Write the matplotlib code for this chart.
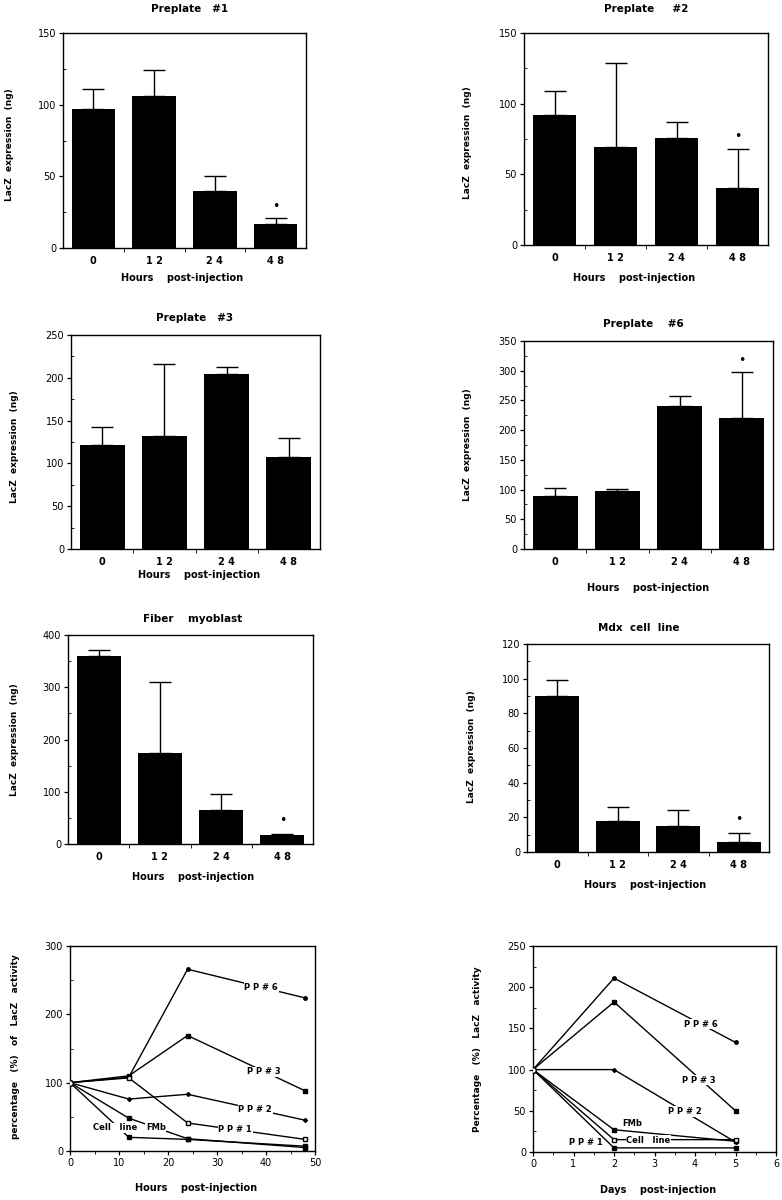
import matplotlib
matplotlib.use("Agg")
import matplotlib.pyplot as plt
from matplotlib.ticker import MultipleLocator

plt.rcParams['font.family'] = ['DejaVu Sans']

W, H = 782, 1200

# bar chart data (LacZ expression, ng) : mean and upper error bar
hours = ['0', '1 2', '2 4', '4 8']

pp1_mean = [97, 106, 40, 17]
pp1_err = [14, 18, 10, 4]
pp2_mean = [92, 69, 76, 40]
pp2_err = [17, 60, 11, 28]
pp3_mean = [121, 132, 205, 107]
pp3_err = [22, 84, 8, 23]
pp6_mean = [90, 97, 240, 220]
pp6_err = [13, 4, 18, 77]
fmb_mean = [360, 175, 65, 17]
fmb_err = [11, 135, 30, 2]
mdx_mean = [90, 18, 15, 6]
mdx_err = [9, 8, 9, 5]

# percentage curves, hours post-injection
h_x = [0, 12, 24, 48]
h_pp6 = [100, 108, 266, 224]
h_pp3 = [100, 110, 169, 88]
h_pp2 = [100, 76, 83, 45]
h_pp1 = [100, 107, 41, 17]
h_fmb = [100, 48, 18, 5]
h_cell = [100, 20, 17, 7]

# percentage curves, days post-injection
d_x = [0, 2, 5]
d_pp6 = [100, 211, 133]
d_pp3 = [100, 182, 50]
d_pp2 = [100, 100, 12]
d_fmb = [100, 27, 13]
d_cell = [100, 15, 15]
d_pp1 = [100, 5, 5]

fig = plt.figure(figsize=(W / 100, H / 100), dpi=100)


def px_axes(l, r, t, b):
    return fig.add_axes([l / W, 1 - b / H, (r - l) / W, (b - t) / H])


def ftext(x, y, s, **kw):
    kw.setdefault('ha', 'center')
    kw.setdefault('va', 'center')
    kw.setdefault('fontweight', 'bold')
    kw.setdefault('fontsize', 7)
    fig.text(x / W, 1 - y / H, s, **kw)


def style(ax):
    for sp in ax.spines.values():
        sp.set_linewidth(1.0)
    ax.tick_params(which='major', direction='out', length=3, width=0.9,
                   labelsize=7, pad=2)
    ax.tick_params(which='minor', direction='in', length=2, width=0.6)


def bar_panel(box, mean, err, ymax, ystep, title, tpos, ylpos, xlpos, star=None):
    ax = px_axes(*box)
    x = [0.5, 1.5, 2.5, 3.5]
    ax.bar(x, mean, width=0.72, color='black')
    ax.errorbar(x, mean, yerr=[[0] * 4, err], fmt='none', ecolor='black',
                elinewidth=1.0, capsize=8, capthick=1.0)
    ax.set_xlim(0, 4)
    ax.set_ylim(0, ymax)
    ax.set_yticks(range(0, ymax + 1, ystep))
    ax.yaxis.set_minor_locator(MultipleLocator(ystep / 2))
    ax.set_xticks(x)
    ax.set_xticklabels(hours, fontweight='bold')
    ax.set_xticks([1, 2, 3], minor=True)
    style(ax)
    ax.tick_params(axis='x', which='major', length=0, pad=6)
    ax.tick_params(axis='x', which='minor', direction='out', length=3)
    if star is not None:
        ax.text(3.5, star, '•', ha='center', va='center', fontsize=9)
    ftext(*tpos, title, fontsize=7.5)
    ftext(*ylpos, 'LacZ  expression  (ng)', rotation=90, fontsize=6.5)
    ftext(*xlpos, 'Hours    post-injection', fontsize=7)
    return ax


bar_panel((63, 306, 33, 248), pp1_mean, pp1_err, 150, 50, 'Preplate   #1',
          (190, 9), (10, 145), (182, 278), star=29)
bar_panel((524, 768, 33, 245), pp2_mean, pp2_err, 150, 50, 'Preplate     #2',
          (646, 9), (468, 143), (634, 278), star=77)
bar_panel((71, 320, 335, 549), pp3_mean, pp3_err, 250, 50, 'Preplate   #3',
          (195, 318), (15, 447), (199, 575))
bar_panel((524, 773, 341, 549), pp6_mean, pp6_err, 350, 50, 'Preplate    #6',
          (643, 324), (468, 445), (648, 588), star=317)
bar_panel((68, 313, 635, 844), fmb_mean, fmb_err, 400, 100, 'Fiber    myoblast',
          (193, 619), (15, 740), (193, 877), star=45)
bar_panel((527, 769, 644, 852), mdx_mean, mdx_err, 120, 20, 'Mdx  cell  line',
          (639, 628), (472, 747), (645, 885), star=19)


def label(ax, x, y, s):
    ax.text(x, y, s, ha='center', va='center', fontsize=6, fontweight='bold',
            bbox=dict(facecolor='white', edgecolor='none', pad=0.5), zorder=5)


# hours line chart
ax7 = px_axes(70, 315, 946, 1151)
lw = 1.0
ax7.plot(h_x, h_pp6, '-o', color='black', lw=lw, ms=2.5)
ax7.plot(h_x, h_pp3, '-s', color='black', lw=lw, ms=3.5)
ax7.plot(h_x, h_pp2, '-D', color='black', lw=lw, ms=2)
ax7.plot(h_x, h_pp1, '-s', color='black', mfc='white', lw=lw, ms=3.5)
ax7.plot(h_x, h_fmb, '-s', color='black', lw=lw, ms=3.5)
ax7.plot(h_x, h_cell, '-s', color='black', lw=lw, ms=3.5)
ax7.plot(h_x[:1], h_pp1[:1], 'o', color='black', mfc='white', ms=4, zorder=6)
label(ax7, 39, 240, 'P P # 6')
label(ax7, 39.5, 116, 'P P # 3')
label(ax7, 37.8, 61, 'P P # 2')
label(ax7, 33.7, 31, 'P P # 1')
label(ax7, 17.5, 34, 'FMb')
label(ax7, 9.3, 34, 'Cell   line')
ax7.set_xlim(0, 50)
ax7.set_ylim(0, 300)
ax7.set_xticks(range(0, 51, 10))
ax7.xaxis.set_minor_locator(MultipleLocator(5))
ax7.set_yticks([0, 100, 200, 300])
ax7.yaxis.set_minor_locator(MultipleLocator(50))
style(ax7)
ax7.tick_params(axis='x', which='minor', direction='out', length=2)
ftext(16, 1047, 'percentage   (%)   of   LacZ   activity', rotation=90, fontsize=6.5)
ftext(196, 1188, 'Hours    post-injection', fontsize=7)

# days line chart
ax8 = px_axes(533, 776, 946, 1152)
ax8.plot(d_x, d_pp6, '-o', color='black', lw=lw, ms=2.5)
ax8.plot(d_x, d_pp3, '-s', color='black', lw=lw, ms=3.5)
ax8.plot(d_x, d_pp2, '-D', color='black', lw=lw, ms=2)
ax8.plot(d_x, d_fmb, '-s', color='black', lw=lw, ms=3.5)
ax8.plot(d_x, d_cell, '-s', color='black', mfc='white', lw=lw, ms=3.5)
ax8.plot(d_x, d_pp1, '-s', color='black', lw=lw, ms=3.5)
ax8.plot(d_x[:1], d_pp1[:1], 'o', color='black', mfc='white', ms=4, zorder=6)
label(ax8, 4.15, 155, 'P P # 6')
label(ax8, 4.1, 87, 'P P # 3')
label(ax8, 3.75, 49, 'P P # 2')
ax8.text(2.45, 34, 'FMb', ha='center', va='center', fontsize=6, fontweight='bold')
label(ax8, 2.85, 14, 'Cell   line')
ax8.text(1.31, 12, 'P P # 1', ha='center', va='center', fontsize=6, fontweight='bold')
ax8.set_xlim(0, 6)
ax8.set_ylim(0, 250)
ax8.set_xticks(range(0, 7))
ax8.xaxis.set_minor_locator(MultipleLocator(0.5))
ax8.set_yticks(range(0, 251, 50))
ax8.yaxis.set_minor_locator(MultipleLocator(25))
style(ax8)
ax8.tick_params(axis='x', which='minor', direction='out', length=2)
ftext(478, 1049, 'Percentage   (%)   LacZ   activity', rotation=90, fontsize=6.5)
ftext(658, 1190, 'Days    post-injection', fontsize=7)

fig.savefig('out.png', dpi=100)
